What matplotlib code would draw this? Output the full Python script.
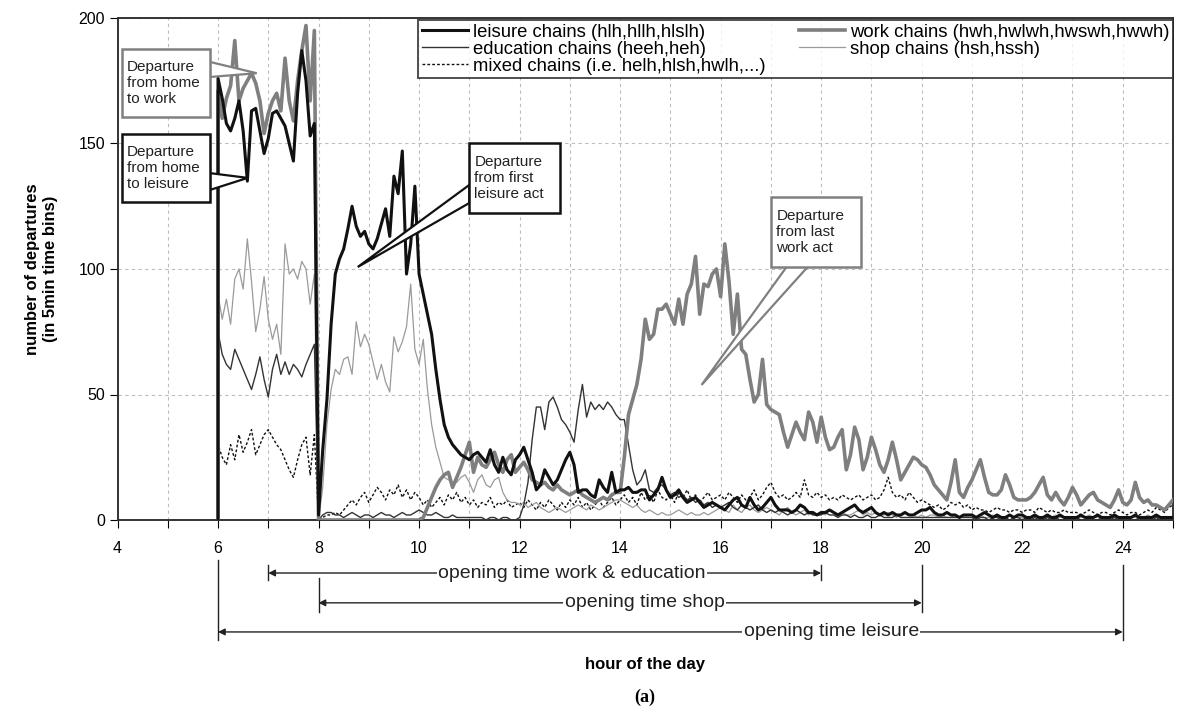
import numpy as np
import matplotlib
matplotlib.use("Agg")
import matplotlib.pyplot as plt
from matplotlib.patches import Rectangle, Polygon

plt.rcParams["font.family"] = ["Liberation Sans", "DejaVu Sans"]

# departures per 5-min bin, morning block 6:00-7:55
leisure_am = [176, 168, 158, 155, 160, 167, 155, 135, 163, 164, 155, 146,
              152, 162, 163, 160, 157, 150, 143, 170, 187, 175, 153, 158]
work_am = [171, 160, 168, 173, 191, 167, 172, 175, 178, 174, 167, 154,
           162, 167, 170, 163, 184, 167, 159, 175, 187, 197, 167, 195]
edu_am = [75, 66, 62, 60, 68, 64, 60, 56, 52, 58, 65, 56,
          49, 60, 66, 58, 63, 58, 62, 60, 57, 62, 66, 70]
shop_am = [90, 80, 88, 78, 96, 100, 92, 112, 95, 75, 84, 97,
           80, 72, 78, 66, 110, 98, 100, 96, 103, 100, 86, 98]
mixed_am = [30, 25, 22, 30, 24, 34, 27, 31, 36, 26, 30, 34,
            36, 33, 30, 28, 24, 20, 17, 24, 30, 33, 18, 34]

# day block 8:00-25:00
leisure_pm = [
    2, 28, 48, 78, 98, 104, 108, 116, 125, 117, 113, 115,
    110, 108, 112, 118, 124, 113, 137, 130, 147, 98, 110, 133,
    98, 90, 82, 74, 60, 48, 38, 33, 30, 28, 26, 25,
    24, 26, 27, 25, 23, 28, 22, 19, 25, 20, 18, 24,
    26, 29, 24, 19, 12, 14, 20, 17, 14, 16, 20, 24,
    27, 22, 11, 12, 12, 10, 9, 16, 13, 11, 19, 11,
    12, 12, 13, 11, 11, 12, 12, 8, 10, 12, 17, 12,
    9, 10, 12, 9, 7, 8, 9, 7, 5, 6, 7, 6,
    5, 4, 6, 8, 9, 6, 5, 9, 6, 4, 5, 7,
    9, 6, 4, 4, 4, 3, 4, 6, 5, 3, 3, 2,
    3, 3, 4, 3, 2, 3, 4, 5, 6, 4, 3, 4,
    5, 3, 2, 3, 2, 3, 2, 2, 3, 2, 2, 3,
    4, 4, 5, 3, 2, 2, 3, 2, 2, 1, 2, 2,
    2, 1, 2, 3, 2, 1, 2, 1, 1, 2, 1, 2,
    2, 1, 1, 2, 1, 1, 2, 1, 1, 2, 1, 1,
    1, 1, 2, 1, 1, 1, 2, 1, 1, 1, 2, 1,
    1, 1, 1, 2, 1, 1, 1, 1, 2, 1, 1, 1,
    1]
work_pm = [
    0, 0, 0, 0, 0, 0, 0, 0, 0, 0, 0, 0,
    0, 0, 0, 0, 0, 0, 0, 0, 0, 0, 0, 0,
    0, 1, 5, 9, 13, 16, 18, 19, 13, 17, 21, 26,
    31, 19, 25, 22, 21, 24, 27, 22, 19, 24, 26, 19,
    21, 23, 20, 16, 15, 14, 15, 13, 12, 14, 12, 11,
    10, 11, 12, 10, 9, 8, 7, 8, 9, 8, 10, 11,
    11, 25, 42, 48, 54, 64, 80, 72, 74, 84, 84, 86,
    82, 78, 88, 78, 90, 94, 105, 82, 94, 93, 98, 100,
    89, 110, 95, 74, 90, 68, 66, 56, 47, 50, 64, 46,
    44, 43, 42, 35, 29, 34, 39, 35, 32, 43, 39, 31,
    41, 33, 28, 29, 33, 36, 20, 26, 37, 32, 20, 25,
    33, 28, 22, 19, 24, 31, 24, 16, 19, 22, 25, 24,
    22, 21, 18, 14, 12, 10, 8, 15, 24, 11, 9, 13,
    16, 20, 24, 17, 11, 10, 10, 12, 18, 14, 9, 8,
    8, 8, 9, 11, 14, 17, 10, 8, 11, 8, 6, 9,
    13, 10, 6, 8, 10, 11, 8, 7, 6, 5, 8, 12,
    7, 6, 8, 15, 9, 7, 8, 6, 6, 5, 4, 6,
    8]
edu_pm = [
    0, 2, 3, 3, 2, 2, 1, 2, 3, 2, 1, 2,
    2, 1, 2, 3, 2, 2, 1, 2, 3, 2, 2, 3,
    4, 3, 2, 2, 3, 2, 1, 1, 2, 1, 1, 1,
    1, 1, 1, 1, 0, 1, 1, 0, 1, 1, 0, 0,
    1, 6, 15, 32, 45, 45, 36, 47, 49, 45, 40, 38,
    35, 31, 44, 54, 41, 47, 44, 46, 44, 47, 45, 42,
    40, 40, 30, 20, 14, 16, 20, 12, 11, 13, 14, 12,
    10, 11, 9, 10, 8, 9, 7, 8, 6, 7, 5, 6,
    5, 6, 7, 5, 4, 6, 5, 4, 5, 6, 4, 3,
    4, 3, 4, 3, 2, 3, 4, 3, 2, 3, 2, 2,
    2, 3, 2, 2, 1, 2, 2, 1, 2, 1, 1, 2,
    1, 1, 2, 1, 1, 1, 2, 1, 1, 1, 1, 1,
    1, 1, 1, 1, 1, 1, 1, 1, 1, 1, 1, 1,
    1, 0, 1, 1, 0, 1, 1, 0, 1, 0, 1, 1,
    0, 1, 0, 1, 0, 0, 1, 0, 1, 0, 0, 1,
    0, 1, 0, 0, 1, 0, 0, 1, 0, 0, 1, 0,
    0, 1, 0, 0, 1, 0, 0, 0, 1, 0, 0, 1,
    0]
shop_pm = [
    0, 13, 38, 52, 60, 58, 64, 65, 58, 79, 69, 74,
    70, 63, 56, 62, 55, 51, 73, 67, 71, 77, 94, 68,
    62, 72, 52, 38, 29, 23, 17, 16, 15, 15, 17, 18,
    15, 11, 16, 18, 14, 13, 16, 17, 11, 8, 7, 7,
    6, 7, 5, 6, 7, 5, 4, 3, 4, 5, 4, 3,
    4, 5, 6, 5, 4, 6, 5, 4, 5, 6, 7, 8,
    8, 7, 6, 5, 6, 4, 3, 4, 3, 2, 3, 2,
    2, 3, 4, 3, 2, 3, 2, 2, 3, 2, 3, 4,
    5, 4, 3, 6, 4, 3, 5, 6, 4, 3, 4, 5,
    4, 3, 2, 4, 5, 3, 2, 3, 4, 2, 3, 2,
    3, 2, 4, 3, 2, 3, 2, 2, 3, 4, 2, 3,
    2, 3, 2, 2, 3, 2, 1, 2, 3, 2, 2, 1,
    2, 1, 2, 2, 1, 2, 1, 1, 2, 1, 2, 1,
    1, 1, 2, 1, 1, 2, 1, 1, 1, 2, 1, 1,
    1, 1, 1, 2, 1, 1, 1, 1, 2, 1, 1, 1,
    1, 1, 1, 1, 2, 1, 1, 1, 1, 1, 1, 1,
    1, 1, 1, 1, 1, 1, 2, 1, 1, 1, 1, 1,
    1]
mixed_pm = [
    0, 1, 2, 2, 3, 2, 4, 6, 8, 6, 9, 11,
    7, 10, 13, 11, 8, 12, 10, 14, 9, 12, 8, 11,
    9, 6, 8, 5, 7, 9, 6, 10, 8, 11, 7, 9,
    6, 8, 5, 7, 6, 9, 5, 7, 6, 8, 5, 6,
    7, 5, 8, 6, 4, 7, 5, 8, 6, 4, 7, 5,
    8, 6, 9, 5, 7, 4, 6, 8, 5, 7, 9, 6,
    8, 10, 7, 9, 6, 11, 8, 10, 7, 12, 9, 8,
    10, 7, 11, 9, 12, 8, 10, 7, 9, 11, 8, 9,
    10, 8, 11, 9, 7, 10, 8, 9, 12, 8, 10, 13,
    15, 11, 9, 10, 8, 9, 11, 9, 16, 10, 9, 11,
    9, 10, 8, 9, 8, 10, 9, 8, 9, 10, 8, 9,
    10, 8, 9, 12, 17, 11, 9, 10, 8, 11, 9, 7,
    8, 7, 6, 5, 6, 4, 5, 7, 6, 7, 5, 6,
    4, 5, 4, 4, 3, 4, 5, 4, 4, 3, 4, 4,
    3, 4, 4, 3, 5, 4, 3, 4, 3, 3, 4, 3,
    3, 3, 2, 3, 4, 3, 2, 3, 3, 2, 3, 4,
    3, 2, 3, 3, 2, 3, 4, 3, 5, 4, 3, 5,
    6]

labels = {
    "leisure": "leisure chains (hlh,hllh,hlslh)",
    "work": "work chains (hwh,hwlwh,hwswh,hwwh)",
    "edu": "education chains (heeh,heh)",
    "shop": "shop chains (hsh,hssh)",
    "mixed": "mixed chains (i.e. helh,hlsh,hwlh,...)",
}

# opening time spans (start hour, end hour, text)
spans = [(7, 18, "opening time work & education"),
         (8, 20, "opening time shop"),
         (6, 24, "opening time leisure")]

fig = plt.figure(figsize=(11.79, 7.14), dpi=100)
ax = fig.add_axes([117.5 / 1179, 1 - 520 / 714, 1055.5 / 1179, 502 / 714])

t_am = 6 + np.arange(len(leisure_am)) / 12
t_pm = 8 + np.arange(len(leisure_pm)) / 12
t = np.r_[6.0, t_am, t_pm]


def series(am, pm):
    return np.r_[0, am, pm]


l_work, = ax.plot(t, series(work_am, work_pm), color="#7f7f7f", lw=2.6,
                  label=labels["work"], zorder=3)
l_leis, = ax.plot(t, series(leisure_am, leisure_pm), color="#111111", lw=2.2,
                  label=labels["leisure"], zorder=3.5)
l_edu, = ax.plot(t, series(edu_am, edu_pm), color="#333333", lw=1.0,
                 label=labels["edu"], zorder=2.5)
l_shop, = ax.plot(t, series(shop_am, shop_pm), color="#9a9a9a", lw=0.9,
                  label=labels["shop"], zorder=2.4)
l_mix, = ax.plot(t, series(mixed_am, mixed_pm), color="#111111", lw=1.0,
                 ls=(0, (2, 1.5)), label=labels["mixed"], zorder=2.3)

ax.set_xlim(4, 25)
ax.set_ylim(0, 200)
hours = list(range(4, 26))
ax.set_xticks(hours)
ax.set_xticklabels([str(h) if h % 2 == 0 and h <= 24 else "" for h in hours],
                   fontsize=11.5)
ax.set_yticks([0, 50, 100, 150, 200])
ax.tick_params(axis="y", labelsize=11.5, length=6, direction="out", pad=3)
ax.tick_params(axis="x", length=6, direction="out", pad=9)
ax.grid(True, ls=(0, (3, 3)), color="#bdbdbd", lw=0.8)
for s in ax.spines.values():
    s.set_color("#333333")
    s.set_linewidth(1.4)

ax.set_ylabel("number of departures\n(in 5min time bins)", fontsize=12,
              fontweight="bold", linespacing=1.3)
ax.yaxis.set_label_coords(-0.056, 0.5)
ax.set_xlabel("hour of the day", fontsize=12, fontweight="bold")
ax.xaxis.set_label_coords(0.5, -0.272)

leg = ax.legend(handles=[l_leis, l_edu, l_mix, l_work, l_shop], ncol=2,
                loc="upper right", bbox_to_anchor=(1.0, 0.996),
                fontsize=13.3, frameon=True, fancybox=False,
                borderaxespad=0, handlelength=2.5, handletextpad=0.27,
                labelspacing=0.0, borderpad=0.2, columnspacing=1.8)
leg.get_frame().set_edgecolor("#222222")
leg.get_frame().set_linewidth(1.4)
leg.set_zorder(10)

# callout boxes: (x0, x1, y0, y1, edge colour, text, wedge points)
callouts = [
    (4.09, 5.84, 160.6, 187.6, "#808080", "Departure\nfrom home\nto work",
     [(5.84, 182.5), (6.77, 178), (5.84, 176.5)]),
    (4.09, 5.84, 126.7, 153.8, "#111111", "Departure\nfrom home\nto leisure",
     [(5.84, 138.2), (6.59, 136.3), (5.84, 131.5)]),
    (11.0, 12.8, 122.3, 150.2, "#111111", "Departure\nfrom first\nleisure act",
     [(11.0, 133.5), (8.78, 100.8), (11.0, 126.3)]),
    (17.01, 18.8, 100.8, 128.7, "#808080", "Departure\nfrom last\nwork act",
     [(17.31, 100.8), (15.62, 53.8), (17.73, 100.8)]),
]
for x0, x1, y0, y1, ec, txt, wedge in callouts:
    ax.add_patch(Polygon(wedge, closed=True, fc="white", ec=ec, lw=1.6,
                         zorder=6))
    ax.add_patch(Rectangle((x0, y0), x1 - x0, y1 - y0, fc="white", ec=ec,
                           lw=1.8, zorder=7))
    ax.text(x0 + 0.1, (y0 + y1) / 2, txt, ha="left", va="center",
            fontsize=11, linespacing=1.2, color="#222222", zorder=8)

# opening time spans below the axis
trans = ax.get_xaxis_transform()
span_y = [-0.1056, -0.165, -0.223]
span_text_x = [13.04, 14.49, 18.2]
bars = {6: (-0.08, -0.239), 7: (-0.09, -0.12), 8: (-0.115, -0.183),
        18: (-0.09, -0.12), 20: (-0.09, -0.183), 24: (-0.09, -0.239)}
for h, (b0, b1) in bars.items():
    ax.plot([h, h], [b0, b1], transform=trans, color="#222222", lw=1.0,
            clip_on=False)
for (x0, x1, txt), yy, xt in zip(spans, span_y, span_text_x):
    ax.annotate("", xy=(x0, yy), xytext=(x1, yy), xycoords=trans,
                textcoords=trans, annotation_clip=False,
                arrowprops=dict(arrowstyle="<|-|>", color="#222222", lw=1.0,
                                mutation_scale=10, shrinkA=0, shrinkB=0))
    ax.text(xt, yy, txt, transform=trans, ha="center", va="center",
            fontsize=14, color="#222222", clip_on=False,
            bbox=dict(fc="white", ec="none", pad=1.0))

fig.text(645 / 1179, 1 - 697 / 714, "(a)", ha="center", va="center",
         fontsize=13, fontweight="bold", family="Liberation Serif")

fig.savefig("out.png", dpi=100)
